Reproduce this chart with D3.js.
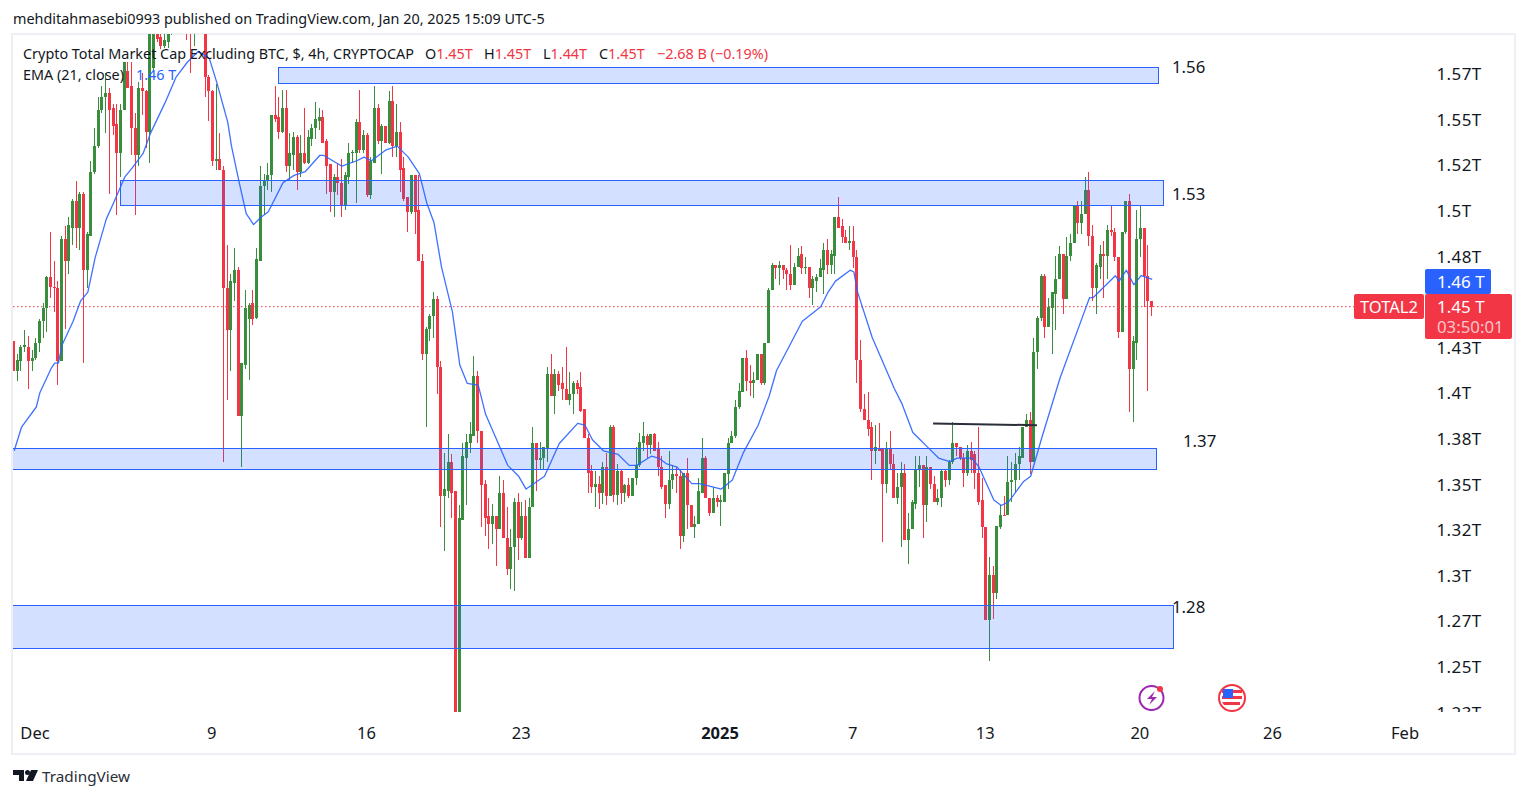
<!DOCTYPE html>
<html><head><meta charset="utf-8">
<script src="https://cdnjs.cloudflare.com/ajax/libs/d3/7.8.5/d3.min.js"></script>
<style>
html,body{margin:0;padding:0;background:#fff;width:1529px;height:798px;overflow:hidden}
svg{display:block}
text{font-family:"Noto Sans","Open Sans",sans-serif}
</style></head><body>
<div id="chart"></div>
<script>
// All prices are in billions of USD. Rows are [open, high, low, close]; 4h bars.
const firstBarTime = "2024-11-30T04:00:00Z";
const barsNovDec1 = [
[1428,1428,1412,1412],[1412,1421,1406,1418],[1417,1426,1412,1425],[1425,1434,1422,1426],[1425,1431,1402,1417],[1417,1423,1412,1419],[1419,1430,1418,1427],[1427,1440,1422,1439],[1439,1449,1430,1446],[1446,1464,1433,1463],
[1463,1488,1452,1458],[1458,1472,1444,1457],[1457,1461,1404,1417],[1417,1486,1417,1484],[1484,1491,1435,1472],[1472,1496,1465,1492],[1490,1506,1481,1505],[1505,1516,1479,1490],[1490,1510,1478,1509],[1509,1510,1416,1467],
[1467,1488,1457,1487],[1486,1527,1486,1521],[1521,1545,1520,1535],[1535,1562,1534,1555],[1555,1568,1553,1562],[1562,1575,1542,1564],[1564,1567,1509,1555],[1556,1558,1541,1546],[1547,1558,1497,1531],[1531,1558,1518,1555],
[1555,1581,1555,1581],[1576,1581,1567,1567],[1568,1581,1530,1545],[1545,1553,1497,1530],[1530,1570,1524,1567],[1567,1575,1552,1565],[1565,1566,1534,1543],[1543,1600,1526,1598],[1578,1604,1576,1602],[1602,1606,1592,1594],
[1595,1600,1588,1590],[1590,1598,1589,1593],[1592,1600,1589,1597],[1597,1610,1596,1606],[1606,1618,1602,1612],[1612,1622,1606,1610],[1610,1616,1600,1604],[1604,1612,1593,1600],[1608,1612,1575,1600],[1600,1614,1590,1608]];
const barsDec2 = [
[1608,1618,1600,1612],[1612,1620,1604,1608],[1608,1612,1562,1573],[1573,1574,1549,1565],[1565,1566,1524,1527],[1527,1569,1522,1528],[1528,1542,1522,1522],[1522,1524,1362,1457],[1457,1481,1396,1434],[1434,1465,1412,1461],
[1460,1479,1450,1467],[1467,1469,1387,1387],[1387,1416,1359,1416],[1415,1456,1413,1446],[1440,1449,1407,1448],[1449,1456,1437,1440],[1441,1479,1440,1473],[1472,1524,1472,1513],[1513,1520,1497,1516],[1516,1526,1511,1519],
[1519,1552,1510,1552],[1552,1568,1548,1550],[1551,1562,1539,1543],[1543,1566,1542,1556],[1556,1566,1521,1524],[1524,1542,1516,1531],[1530,1543,1522,1540],[1540,1541,1511,1521],[1521,1541,1518,1531],[1531,1556,1525,1526],
[1526,1544,1525,1540],[1539,1547,1535,1545],[1545,1559,1539,1550],[1549,1556,1544,1551],[1551,1555,1537,1537],[1538,1539,1509,1524],[1525,1525,1499,1510],[1510,1520,1496,1518],[1518,1526,1508,1515],[1515,1528,1496,1502],
[1502,1521,1500,1519],[1518,1537,1514,1531],[1531,1533,1526,1532],[1531,1550,1504,1548],[1548,1566,1531,1533],[1533,1544,1531,1541],[1541,1542,1507,1508],[1508,1529,1506,1527],[1526,1568,1526,1556],[1556,1558,1536,1538]];
const barsDec3 = [
[1538,1547,1520,1546],[1546,1546,1537,1537],[1537,1565,1536,1560],[1560,1568,1529,1535],[1535,1558,1529,1543],[1543,1548,1510,1522],[1523,1529,1505,1506],[1507,1507,1488,1499],[1499,1519,1498,1519],[1519,1519,1487,1499],
[1500,1519,1472,1472],[1472,1476,1418,1421],[1421,1436,1381,1435],[1435,1443,1428,1442],[1442,1455,1430,1451],[1451,1453,1399,1414],[1414,1417,1326,1343],[1343,1367,1313,1347],[1346,1377,1342,1362],[1362,1366,1331,1345],
[1346,1346,1190,1200],[1200,1338,1190,1331],[1330,1372,1330,1365],[1364,1377,1338,1373],[1372,1384,1367,1377],[1376,1420,1376,1409],[1409,1412,1372,1379],[1379,1379,1326,1349],[1350,1352,1321,1331],[1332,1342,1314,1328],
[1328,1339,1317,1332],[1332,1332,1305,1325],[1325,1354,1325,1345],[1345,1352,1320,1320],[1320,1337,1300,1303],[1303,1325,1292,1315],[1315,1342,1291,1340],[1340,1345,1308,1320],[1320,1340,1319,1332],[1332,1341,1309,1309],
[1309,1342,1309,1337],[1337,1381,1337,1372],[1372,1372,1346,1363],[1363,1373,1358,1364],[1364,1370,1358,1370],[1369,1414,1362,1410],[1410,1421,1398,1398],[1398,1413,1388,1410],[1410,1412,1401,1404],[1405,1414,1396,1402]];
const barsDec4 = [
[1402,1425,1396,1396],[1396,1411,1393,1399],[1399,1406,1388,1405],[1405,1407,1399,1402],[1403,1411,1389,1390],[1391,1391,1375,1375],[1375,1377,1345,1356],[1357,1360,1345,1348],[1348,1357,1337,1350],[1350,1354,1336,1345],
[1345,1362,1339,1359],[1359,1367,1338,1343],[1343,1382,1343,1381],[1381,1382,1340,1344],[1344,1361,1338,1357],[1357,1358,1339,1345],[1345,1350,1340,1349],[1349,1353,1342,1343],[1343,1353,1343,1353],[1353,1370,1349,1360],
[1360,1378,1359,1373],[1372,1384,1368,1376],[1376,1377,1364,1371],[1371,1377,1366,1377],[1377,1378,1368,1368],[1369,1373,1354,1359],[1359,1365,1347,1348],[1349,1349,1331,1339],[1339,1368,1336,1352],[1352,1360,1347,1355],
[1355,1359,1345,1354],[1354,1358,1314,1321],[1321,1356,1318,1356],[1356,1364,1325,1338],[1338,1338,1326,1326],[1326,1332,1320,1328],[1328,1353,1328,1346],[1345,1375,1345,1364],[1364,1365,1342,1342],[1342,1342,1332,1334],
[1334,1348,1334,1342],[1342,1344,1337,1340],[1340,1344,1327,1341],[1340,1356,1340,1356],[1355,1375,1347,1372],[1372,1379,1372,1376],[1376,1396,1375,1392],[1392,1405,1391,1401],[1400,1419,1400,1419],[1419,1423,1401,1406]];
const barsJan1 = [
[1406,1415,1398,1405],[1405,1411,1397,1407],[1407,1421,1407,1421],[1421,1421,1404,1405],[1405,1427,1404,1427],[1427,1457,1427,1456],[1456,1471,1456,1470],[1470,1470,1462,1468],[1468,1472,1459,1470],[1470,1470,1462,1467],
[1467,1468,1456,1465],[1465,1481,1456,1459],[1459,1471,1459,1469],[1469,1479,1469,1475],[1476,1480,1465,1468],[1469,1474,1465,1469],[1469,1469,1452,1457],[1457,1464,1448,1462],[1461,1465,1455,1463],[1463,1473,1463,1468],
[1467,1482,1454,1478],[1478,1484,1465,1470],[1470,1478,1465,1476],[1475,1496,1465,1496],[1496,1507,1490,1490],[1491,1495,1482,1485],[1485,1489,1482,1482],[1482,1491,1478,1483],[1483,1491,1468,1474],[1474,1478,1405,1418],
[1418,1429,1389,1391],[1391,1399,1385,1385],[1385,1400,1376,1380],[1381,1384,1352,1368],[1368,1382,1361,1370],[1369,1383,1368,1368],[1369,1369,1318,1350],[1350,1373,1345,1369],[1369,1379,1358,1361],[1361,1366,1342,1342],
[1342,1356,1339,1348],[1348,1362,1315,1356],[1356,1361,1319,1319],[1319,1334,1306,1325],[1325,1341,1325,1340],[1339,1365,1336,1358],[1358,1365,1348,1360],[1360,1360,1320,1338],[1338,1365,1329,1359],[1359,1359,1347,1350]];
const barsJan2 = [
[1350,1354,1340,1340],[1340,1347,1338,1342],[1342,1358,1337,1357],[1357,1358,1348,1352],[1352,1363,1349,1362],[1362,1384,1361,1372],[1372,1372,1365,1370],[1370,1370,1363,1364],[1364,1367,1348,1356],[1356,1371,1354,1368],
[1368,1373,1356,1363],[1366,1368,1347,1356],[1356,1381,1338,1340],[1341,1353,1320,1326],[1326,1326,1275,1275],[1275,1310,1253,1300],[1300,1305,1276,1290],[1290,1327,1287,1327],[1326,1338,1325,1333],[1333,1343,1332,1332],
[1333,1365,1333,1351],[1351,1362,1340,1352],[1352,1367,1345,1361],[1361,1370,1352,1365],[1364,1381,1364,1381],[1381,1388,1381,1385],[1385,1389,1355,1362],[1362,1430,1362,1422],[1422,1442,1413,1441],[1441,1465,1439,1464],
[1464,1465,1430,1436],[1436,1452,1436,1447],[1446,1455,1421,1455],[1454,1475,1434,1462],[1462,1480,1462,1476],[1476,1476,1443,1451],[1451,1485,1451,1475],[1475,1487,1472,1482],[1482,1503,1482,1502],[1502,1505,1487,1493],
[1493,1505,1487,1498],[1498,1518,1498,1511],[1511,1521,1480,1486],[1486,1492,1450,1457],[1457,1471,1443,1470],[1469,1481,1462,1476],[1476,1483,1452,1475],[1475,1492,1462,1489],[1489,1503,1486,1488],[1488,1490,1472,1474]];
const barsJan3 = [
[1474,1474,1430,1433],[1433,1488,1433,1488],[1488,1505,1487,1505],[1505,1509,1389,1413],[1413,1431,1384,1428],[1427,1500,1418,1484],[1484,1503,1474,1490],[1490,1490,1447,1464],[1464,1481,1401,1450],[1450,1450,1442,1447]];

// EMA(21): bar number and value
const emaBar = [0,2,6,7,10,11,12,13,16,18,20,22,25,27,30,32,35,37,41,44,47,50,53,55,58,59,61,63,65,67,69,73,76,79,83,84,89,93,95,97,101,104,107,110,112,114,116,119,121,123,126,128,131,134,137,139,144,148,153,155,157,160,164,167,169,173,175,177,180,184,186,188,192,195,198,202,205,207,214,219,221,223,227,228,229,233,236,239,241,244,246,248,251,254,256,260,262,266,268,270,274,276,279,284,290,292,293,299,300,302,304,306,309];
const emaValue = [1368,1381,1392,1400,1413,1416,1416,1426,1439,1450,1455,1474,1495,1504,1518,1523,1531,1542,1559,1573,1581,1587,1583,1570,1548,1535,1516,1498,1492,1496,1499,1515,1519,1521,1530,1530,1524,1527,1529,1527,1533,1535,1529,1520,1504,1493,1469,1444,1415,1405,1404,1388,1374,1360,1354,1347,1354,1372,1383,1382,1374,1368,1366,1360,1360,1365,1364,1361,1359,1350,1350,1349,1347,1352,1367,1382,1398,1412,1439,1447,1455,1461,1467,1466,1455,1430,1416,1402,1394,1378,1374,1370,1364,1362,1364,1364,1359,1341,1338,1340,1351,1354,1375,1408,1441,1452,1452,1464,1461,1467,1459,1464,1462];

// Price zones: first bar, last bar, upper price, lower price
const zoneFrom  = [71.6, 28.7, -1, -1];
const zoneTo    = [310.6, 311.9, 309.8, 314.6];
const zoneUpper = [1578.6, 1516.5, 1369.6, 1283.5];
const zoneLower = [1569.6, 1503, 1358, 1260];
const zoneLabels = ["1.56","1.53","1.37","1.28"];

const flatLineBars = [249.5, 277.7];
const flatLineValues = [1383, 1382];

const priceTicks = [1575,1550,1525,1500,1475,1425,1400,1375,1350,1325,1300,1275,1250,1225];
const priceTickLabels = ["1.57T","1.55T","1.52T","1.5T","1.48T","1.43T","1.4T","1.38T","1.35T","1.32T","1.3T","1.27T","1.25T","1.23T"];
const dateTicks = ["2024-12-01","2024-12-09","2024-12-16","2024-12-23","2025-01-01","2025-01-07","2025-01-13","2025-01-20","2025-01-26","2025-02-01"];
const dateTickLabels = ["Dec","9","16","23","2025","7","13","20","26","Feb"];

const lastPrice = 1447;

const W=1529,H=798, green="#388e3c", red="#f23645", blue="#2962ff", ink="#131722";
const bars = [...barsNovDec1,...barsDec2,...barsDec3,...barsDec4,...barsJan1,...barsJan2,...barsJan3];
const t0 = new Date(firstBarTime);
const barTime = i => new Date(+t0 + i*4*3600*1000);

const x = d3.scaleUtc().domain([barTime(0),barTime(309)]).range([13.1,1151.1]);
const xb = i => x(barTime(i));
const xn = i => xb(i)+1.1;   // annotations and EMA were read against bar centres +1px
const y = d3.scaleLinear().domain([1225,1575]).range([711.6,73.2]);

const svg = d3.select("#chart").append("svg").attr("width",W).attr("height",H);
const defs = svg.append("defs");
defs.append("clipPath").attr("id","pane").append("rect").attr("x",13).attr("y",34).attr("width",1412).attr("height",678);
defs.append("clipPath").attr("id","scale").append("rect").attr("x",1425).attr("y",34).attr("width",90).attr("height",678);

// frame
svg.append("rect").attr("x",12).attr("y",34).attr("width",1503).attr("height",720)
  .attr("fill","none").attr("stroke","#eef0f5").attr("stroke-width",2);

svg.append("text").attr("x",13).attr("y",24).attr("font-size",14.4).attr("fill",ink)
  .text("mehditahmasebi0993 published on TradingView.com, Jan 20, 2025 15:09 UTC-5");

const pane = svg.append("g").attr("clip-path","url(#pane)");

// price line
pane.append("line").attr("x1",13).attr("x2",1355).attr("y1",y(lastPrice)).attr("y2",y(lastPrice))
  .attr("stroke",red).attr("stroke-width",1).attr("stroke-dasharray","1.5 2.5");

// candles
const candle = pane.append("g").attr("shape-rendering","crispEdges").selectAll("g").data(bars).join("g")
  .attr("fill",d=>d[3]>=d[0]?green:red);
candle.append("rect").attr("x",(d,i)=>Math.round(xb(i)))
  .attr("width",1).attr("y",d=>y(d[1])).attr("height",d=>Math.max(1,y(d[2])-y(d[1])));
candle.append("rect").attr("x",(d,i)=>Math.round(xb(i))-1).attr("width",3)
  .attr("y",d=>y(Math.max(d[0],d[3]))).attr("height",d=>Math.max(1,Math.abs(y(d[0])-y(d[3]))));

// EMA
const emaLine = d3.line().x((d,i)=>xn(emaBar[i])).y(d=>y(d));
pane.append("path").attr("d",emaLine(emaValue)).attr("fill","none").attr("stroke",blue).attr("stroke-width",1.3).attr("stroke-linejoin","round").attr("opacity",.9);

// zones
zoneFrom.forEach((f,i)=>{
  pane.append("rect").attr("x",Math.round(xn(f))+.5).attr("y",Math.round(y(zoneUpper[i]))+.5)
    .attr("width",Math.round(xn(zoneTo[i])-xn(f))).attr("height",Math.round(y(zoneLower[i])-y(zoneUpper[i])))
    .attr("fill","rgba(41,98,255,0.2)").attr("stroke",blue).attr("stroke-width",1);
  pane.append("text").attr("font-size",16.8).attr("fill",ink)
    .attr("x",i==2?1183:1172).attr("y",y(zoneUpper[i])+[6,20,-1,8][i]).text(zoneLabels[i]);
});

// flat line
pane.append("line").attr("x1",xn(flatLineBars[0])).attr("x2",xn(flatLineBars[1]))
  .attr("y1",y(flatLineValues[0])).attr("y2",y(flatLineValues[1]))
  .attr("stroke","#2a2e39").attr("stroke-width",2);

// legend
const lg = svg.append("g").attr("font-size",14.4);
const l1 = lg.append("text").attr("x",23).attr("y",59);
l1.append("tspan").attr("fill",ink).text("Crypto Total Market Cap Excluding BTC, $, 4h, CRYPTOCAP");
l1.append("tspan").attr("x",425).attr("fill",ink).text("O");
l1.append("tspan").attr("fill",red).text("1.45T");
l1.append("tspan").attr("x",484).attr("fill",ink).text("H");
l1.append("tspan").attr("fill",red).text("1.45T");
l1.append("tspan").attr("x",543).attr("fill",ink).text("L");
l1.append("tspan").attr("fill",red).text("1.44T");
l1.append("tspan").attr("x",599).attr("fill",ink).text("C");
l1.append("tspan").attr("fill",red).text("1.45T");
l1.append("tspan").attr("x",657).attr("fill",red).text("−2.68 B (−0.19%)");
lg.append("text").attr("x",23).attr("y",80).attr("fill",ink).text("EMA (21, close)");
lg.append("text").attr("x",136).attr("y",80).attr("fill",blue).text("1.46 T");

// price axis
const yAxis = d3.axisRight(y).tickValues(priceTicks).tickSize(0).tickPadding(0)
  .tickFormat((d,i)=>priceTickLabels[i]);
const ya = svg.append("g").attr("clip-path","url(#scale)").append("g").attr("transform","translate(1436.5,1)").call(yAxis);
ya.select(".domain").remove();
ya.selectAll("text").attr("font-size",17).attr("letter-spacing",.4).attr("fill",ink).attr("font-family",'"Noto Sans",sans-serif');

// date axis
const xAxis = d3.axisBottom(x).tickValues(dateTicks.map(d=>new Date(d+"T00:00:00Z"))).tickSize(0).tickPadding(0)
  .tickFormat((d,i)=>dateTickLabels[i]);
const xa = svg.append("g").attr("transform","translate(3,727)").call(xAxis);
xa.select(".domain").remove();
xa.selectAll("text").attr("font-size",16.5).attr("fill",ink).attr("font-family",'"Noto Sans",sans-serif')
  .attr("font-weight",(d,i)=>dateTickLabels[i]=="2025"?700:400);

// price tags
const box=(a,b,w,h,c)=>svg.append("rect").attr("x",a).attr("y",b).attr("width",w).attr("height",h).attr("rx",2).attr("fill",c);
const lab=(a,b,t,s,o)=>svg.append("text").attr("x",a).attr("y",b).attr("font-size",s).attr("fill","#fff").attr("fill-opacity",o||1).text(t);
box(1425,269,66,25,blue); lab(1437,288,"1.46 T",17);
box(1354,294,70,25,red); lab(1360,313,"TOTAL2",16.5);
box(1425,294,87,45,red); lab(1437,313,"1.45 T",17); lab(1437,333,"03:50:01",16.8,.72);

// event icons
const ev = svg.append("g");
ev.append("circle").attr("cx",1151.5).attr("cy",698).attr("r",12).attr("fill","#fff").attr("stroke","#9c27b0").attr("stroke-width",2);
ev.append("path").attr("d","M1155 691l-8 8h5l-3 6 8-8h-5z").attr("fill","#9c27b0");
ev.append("circle").attr("cx",1160).attr("cy",689).attr("r",3).attr("fill",red);
ev.append("circle").attr("cx",1232).attr("cy",698).attr("r",13).attr("fill","#fff").attr("stroke",red).attr("stroke-width",2);
ev.append("path").attr("d","M1222 690h20v3h-20zM1222 696h20v3h-20zM1222 702h18v3h-16z").attr("fill",red);
ev.append("rect").attr("x",1223).attr("y",689).attr("width",10).attr("height",9).attr("fill","#2962ff");

// TradingView mark
const tv = svg.append("g").attr("fill","#131722");
tv.append("path").attr("d","M13 770h11v11h-5v-6h-6zM31 770h7l-5 11h-7z");
tv.append("circle").attr("cx",27.5).attr("cy",772.5).attr("r",2.5);
tv.append("text").attr("x",42).attr("y",782).attr("font-size",15.3).attr("fill","#2a2e39").text("TradingView");
</script>
</body></html>
